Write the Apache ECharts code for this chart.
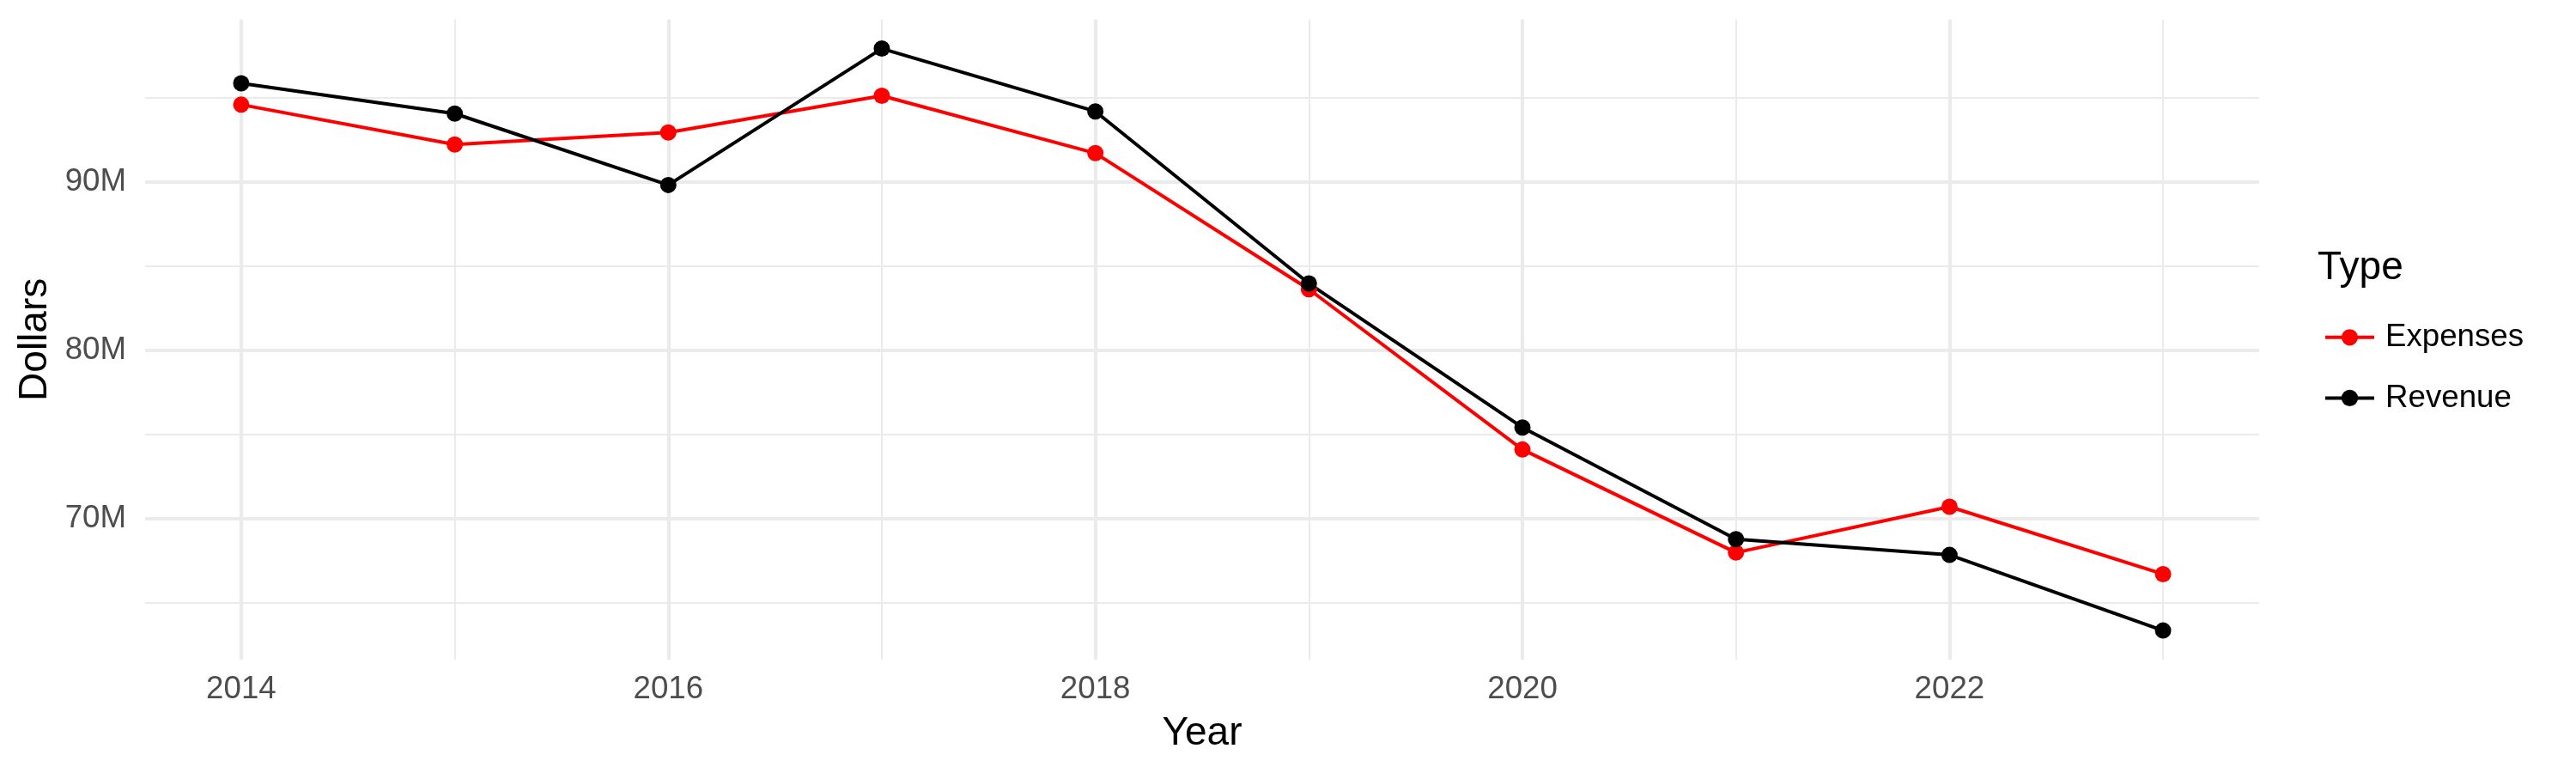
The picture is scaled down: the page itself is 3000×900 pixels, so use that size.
<!DOCTYPE html>
<html>
<head>
<meta charset="utf-8">
<script src="https://cdn.jsdelivr.net/npm/echarts@6/dist/echarts.min.js"></script>
<style>
  html, body { margin: 0; padding: 0; background: #ffffff; }
  #chart { width: 3000px; height: 900px; }
</style>
</head>
<body>
<div id="chart"></div>
<script>
// ---- data (millions of dollars) ----
const years = [2014, 2015, 2016, 2017, 2018, 2019, 2020, 2021, 2022, 2023];
const expenses = [94.58, 92.21, 92.93, 95.11, 91.70, 83.62, 74.10, 67.98, 70.70, 66.70];
const revenue  = [95.85, 94.05, 89.81, 97.91, 94.18, 83.96, 75.41, 68.78, 67.84, 63.35];
const xTickLabels = [2014, 2016, 2018, 2020, 2022];
const xMinorLines = [2015, 2017, 2019, 2021, 2023];
const yTickLabels = [70, 80, 90];
const yMinorLines = [65, 75, 85, 95];

const FONT = 'Liberation Sans';
const GRID_COLOR = '#EBEBEB';

function pairs(vals) { return years.map((y, i) => [y, vals[i]]); }

// ggplot-like 5% expansion of the data range
const allVals = expenses.concat(revenue);
const yLo = Math.min(...allVals), yHi = Math.max(...allVals);
const yPad = (yHi - yLo) * 0.05;
const xPad = (years[years.length - 1] - years[0]) * 0.05;

const gridLines = []
  .concat(xTickLabels.map(v => ({ xAxis: v, lineStyle: { width: 4.2 } })))
  .concat(xMinorLines.map(v => ({ xAxis: v, lineStyle: { width: 2.1 } })))
  .concat(yTickLabels.map(v => ({ yAxis: v, lineStyle: { width: 4.2 } })))
  .concat(yMinorLines.map(v => ({ yAxis: v, lineStyle: { width: 2.1 } })));

const chart = echarts.init(document.getElementById('chart'), null, { renderer: 'canvas' });
chart.setOption({
  animation: false,
  backgroundColor: '#ffffff',
  textStyle: { fontFamily: FONT },
  grid: { left: 169, right: 369, top: 22.7, bottom: 132, containLabel: false },
  title: {
    text: 'Type',
    left: 2699,
    top: 289,
    padding: 0,
    textStyle: { fontFamily: FONT, fontSize: 46, fontWeight: 'normal', color: '#000000' }
  },
  legend: {
    orient: 'vertical',
    left: 2706,
    top: 374.3,
    padding: 0,
    itemWidth: 57,
    itemHeight: 24,
    itemGap: 33.6,
    data: ['Expenses', 'Revenue'],
    lineStyle: { width: 4 },
    textStyle: { fontFamily: FONT, fontSize: 36.7, color: '#000000', padding: [0, 0, 0, 8] }
  },
  xAxis: {
    type: 'value',
    min: years[0] - xPad,
    max: years[years.length - 1] + xPad,
    name: 'Year',
    nameLocation: 'middle',
    nameGap: 63.5,
    nameTextStyle: { fontFamily: FONT, fontSize: 46, color: '#000000' },
    axisLine: { show: false },
    axisTick: { show: false },
    splitLine: { show: false },
    axisLabel: {
      customValues: xTickLabels,
      formatter: v => String(v),
      margin: 16,
      fontFamily: FONT,
      fontSize: 36.7,
      color: '#4D4D4D'
    }
  },
  yAxis: {
    type: 'value',
    min: yLo - yPad,
    max: yHi + yPad,
    name: 'Dollars',
    nameLocation: 'middle',
    nameRotate: 90,
    nameGap: 105,
    nameTextStyle: { fontFamily: FONT, fontSize: 46, color: '#000000' },
    axisLine: { show: false },
    axisTick: { show: false },
    splitLine: { show: false },
    axisLabel: {
      customValues: yTickLabels,
      formatter: v => v + 'M',
      margin: 22,
      fontFamily: FONT,
      fontSize: 36.7,
      color: '#4D4D4D'
    }
  },
  series: [
    {
      name: 'grid',
      type: 'line',
      data: [],
      silent: true,
      z: 0,
      markLine: {
        silent: true,
        z: 0,
        symbol: ['none', 'none'],
        label: { show: false },
        animation: false,
        lineStyle: { color: GRID_COLOR, type: 'solid' },
        emphasis: { disabled: true },
        data: gridLines
      }
    },
    {
      name: 'Expenses',
      type: 'line',
      data: pairs(expenses),
      z: 3,
      symbol: 'circle',
      symbolSize: 19,
      lineStyle: { color: '#FF0000', width: 4 },
      itemStyle: { color: '#FF0000' }
    },
    {
      name: 'Revenue',
      type: 'line',
      data: pairs(revenue),
      z: 3,
      symbol: 'circle',
      symbolSize: 19,
      lineStyle: { color: '#000000', width: 4 },
      itemStyle: { color: '#000000' }
    }
  ]
});
</script>
</body>
</html>
